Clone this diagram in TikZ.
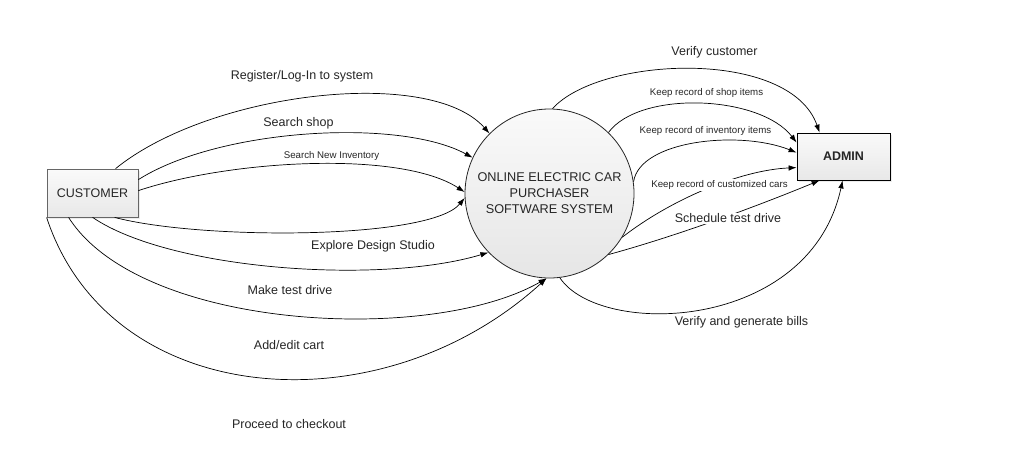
\documentclass[tikz,border=0pt]{standalone}
\usepackage{fontspec}
\setmainfont{Liberation Sans}
\usetikzlibrary{arrows.meta,shadows}
\begin{document}
\begin{tikzpicture}[x=1pt,y=-1pt,
  conn/.style={draw=black, line width=0.7pt, -{Latex[length=8pt,width=5.5pt]}},
  lbl/.style={font=\fontsize{12.5}{15}\selectfont, text=black!85, inner sep=1pt, fill=white},
  slbl/.style={font=\fontsize{9.7}{11}\selectfont, text=black!85, inner sep=1pt, fill=white},
  ent/.style={rectangle, top color=white!98!black, bottom color=white!91!black,
    drop shadow={shadow xshift=1.5pt, shadow yshift=-1.5pt, fill=black!15},
    font=\fontsize{12.5}{15}\selectfont, text=black!85, line width=0.8pt},
  proc/.style={circle, draw=black!85, line width=0.8pt, minimum size=169pt, inner sep=0pt,
    top color=white!98!black, bottom color=white!90!black, align=center,
    font=\fontsize{12.7}{16}\selectfont, text=black!85}
]
\useasboundingbox (0,0) rectangle (1016,469);

\node[ent, draw=black!60, minimum width=91pt, minimum height=48pt] (cust) at (92.5,193) {CUSTOMER};
\node[ent, draw=black, minimum width=93pt, minimum height=47pt, font=\fontsize{12.5}{15}\selectfont\bfseries] (adm) at (843.5,156.5) {ADMIN};
\node[proc] (sys) at (549.5,193.5) {ONLINE ELECTRIC CAR\\PURCHASER\\SOFTWARE SYSTEM};

% customer -> system
\draw[conn] ([xshift=69pt]cust.north west) .. controls (210,92) and (430,66) .. (sys.135);
\draw[conn] ([yshift=-11pt]cust.north east) .. controls (220,128) and (400,118) .. (sys.155);
\draw[conn] ([yshift=-22pt]cust.north east) .. controls (230,160) and (400,150) .. (sys.179);
\draw[conn] ([xshift=68pt]cust.south west) .. controls (200,240) and (430,240) .. (sys.183);
\draw[conn] ([xshift=46pt]cust.south west) .. controls (170,270) and (380,285) .. (sys.224);
\draw[conn] ([xshift=22pt]cust.south west) .. controls (140,330) and (430,345) .. (sys.268);
\draw[conn] (cust.south west) .. controls (110,410) and (380,430) .. (sys.268);

% system -> admin
\draw[conn] (sys.88) .. controls (600,56) and (790,48) .. ([xshift=23pt]adm.north west);
\draw[conn] (sys.46) .. controls (640,90) and (760,95) .. ([yshift=-10pt]adm.north west);
\draw[conn] (sys.8) .. controls (640,140) and (740,130) .. ([yshift=-20pt]adm.north west);
\draw[conn] (sys.329) .. controls (670,200) and (740,170) .. ([yshift=-35pt]adm.north west);
\draw[conn] (sys.314) .. controls (680,235) and (760,205) .. ([xshift=23pt]adm.south west);
\draw[conn] (sys.277) .. controls (600,338) and (810,332) .. ([xshift=46pt]adm.south west);

% labels
\node[lbl] (l1) at (302,76.5) {Register/Log-In to system};
\node[lbl] (l2) at (298.5,123) {Search shop};
\node[slbl] (l3) at (331.5,156) {Search New Inventory};
\node[lbl] (l4) at (373,246) {Explore Design Studio};
\node[lbl] (l5) at (290,290) {Make test drive};
\node[lbl] (l6) at (289,345) {Add/edit cart};
\node[lbl] (l7) at (289,424) {Proceed to checkout};
\node[lbl] (r1) at (714.5,52.5) {Verify customer};
\node[slbl] (r2) at (706.5,93) {Keep record of shop items};
\node[slbl] (r3) at (705.5,130.5) {Keep record of inventory items};
\node[slbl] (r4) at (719.5,185) {Keep record of customized cars};
\node[lbl] (r5) at (728,218.5) {Schedule test drive};
\node[lbl] (r6) at (741.5,322.5) {Verify and generate bills};
\end{tikzpicture}
\end{document}
